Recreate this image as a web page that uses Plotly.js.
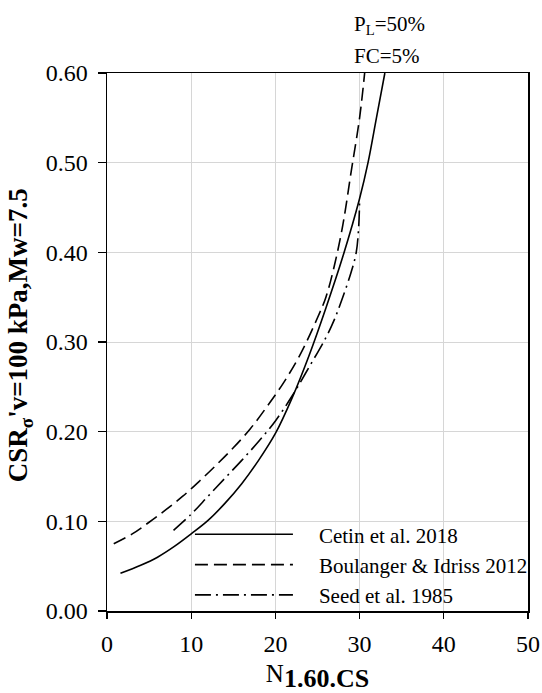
<!DOCTYPE html>
<html>
<head>
<meta charset="utf-8">
<script src="https://cdn.plot.ly/plotly-3.0.1.min.js"></script>
<style>html,body{margin:0;padding:0;background:#fff;}#chart{width:542px;height:693px;}</style>
</head>
<body>
<div id="chart"></div>
<script>
// Cetin et al. 2018 (solid)
const cetinN   = [1.6, 4, 6, 8, 10, 12, 14, 16, 18, 20, 22, 24, 26, 28, 30, 31, 32, 33];
const cetinCSR = [0.042, 0.051, 0.060, 0.072, 0.086, 0.101, 0.120, 0.142, 0.168, 0.198, 0.238, 0.285, 0.338, 0.395, 0.46, 0.50, 0.55, 0.60];
// Boulanger & Idriss 2012 (dashed)
const biN   = [0.8, 3, 5, 7, 9, 11, 13, 15, 17, 19, 21, 23, 25, 26, 27, 28, 29, 30, 30.6];
const biCSR = [0.075, 0.086, 0.099, 0.113, 0.128, 0.145, 0.163, 0.182, 0.203, 0.228, 0.255, 0.287, 0.327, 0.350, 0.385, 0.43, 0.49, 0.55, 0.60];
// Seed et al. 1985 (dash-dot)
const seedN   = [7.9, 10, 12, 14, 16, 18, 20, 22, 24, 26, 27, 28, 29, 29.6, 29.9, 30.0];
const seedCSR = [0.090, 0.108, 0.128, 0.148, 0.168, 0.189, 0.212, 0.240, 0.272, 0.305, 0.325, 0.350, 0.378, 0.40, 0.43, 0.46];

const seriesNames = ["Cetin et al. 2018", "Boulanger &amp; Idriss 2012", "Seed et al. 1985"];
const xTicks = [0, 10, 20, 30, 40, 50];
const yTicks = [0, 0.1, 0.2, 0.3, 0.4, 0.5, 0.6];

const serif = "'Liberation Serif', 'Times New Roman', serif";
const pad = "&nbsp;&nbsp;&nbsp;&nbsp;";

const traces = [
  {x: cetinN, y: cetinCSR, name: pad + seriesNames[0], mode: "lines",
   line: {color: "#000", width: 1.6, shape: "spline", dash: "solid"}},
  {x: biN, y: biCSR, name: pad + seriesNames[1], mode: "lines",
   line: {color: "#000", width: 1.6, shape: "spline", dash: "13px,6px"}},
  {x: seedN, y: seedCSR, name: pad + seriesNames[2], mode: "lines",
   line: {color: "#000", width: 1.6, shape: "spline", dash: "16px,5px,2px,5px"}}
];

const layout = {
  width: 542, height: 693,
  margin: {l: 107, r: 14, t: 73, b: 82, autoexpand: false},
  paper_bgcolor: "#fff", plot_bgcolor: "#fff",
  font: {family: serif, color: "#000", size: 21},
  showlegend: true,
  legend: {
    x: 0.197, xanchor: "left", y: 0.18, yanchor: "top",
    bgcolor: "rgba(0,0,0,0)", borderwidth: 0,
    font: {family: serif, size: 21, color: "#000"},
    itemwidth: 98, tracegroupgap: 0
  },
  xaxis: {
    range: [0, 50], tickvals: xTicks, ticktext: xTicks.map(String),
    showgrid: true, gridcolor: "#d6d6d6", gridwidth: 1,
    zeroline: false, showline: true, linecolor: "#000", linewidth: 1.5, mirror: true,
    ticks: "outside", ticklen: 6, tickcolor: "#000", tickwidth: 1.2,
    tickfont: {family: serif, size: 24, color: "#000"},
    ticklabelstandoff: 5, automargin: false,
    title: {text: "N<sub><span style=\"font-size:26px;font-weight:bold\">1.60.CS</span></sub>",
            font: {family: serif, size: 25, color: "#000"}, standoff: 10}
  },
  yaxis: {
    range: [0, 0.6], tickvals: yTicks, ticktext: yTicks.map(v => v.toFixed(2)),
    showgrid: true, gridcolor: "#d6d6d6", gridwidth: 1,
    zeroline: false, showline: true, linecolor: "#000", linewidth: 1.5, mirror: true,
    ticks: "outside", ticklen: 8, tickcolor: "#000", tickwidth: 1.2,
    tickfont: {family: serif, size: 24, color: "#000"},
    ticklabelstandoff: 5, automargin: false,
    title: {text: "<b>&nbsp;&nbsp;CSR<sub>σ</sub>'v=100 kPa,Mw=7.5</b>",
            font: {family: serif, size: 27, color: "#000"}, standoff: 10}
  },
  annotations: [
    {xref: "paper", yref: "paper", x: 0.568, y: 1.0, xshift: 6, yshift: 48, xanchor: "left", yanchor: "middle",
     text: "P<sub>L</sub>=50%", showarrow: false, font: {family: serif, size: 21, color: "#000"}},
    {xref: "paper", yref: "paper", x: 0.568, y: 1.0, xshift: 6, yshift: 17, xanchor: "left", yanchor: "middle",
     text: "FC=5%", showarrow: false, font: {family: serif, size: 21, color: "#000"}}
  ]
};

Plotly.newPlot("chart", traces, layout, {staticPlot: true, displayModeBar: false});
</script>
</body>
</html>
